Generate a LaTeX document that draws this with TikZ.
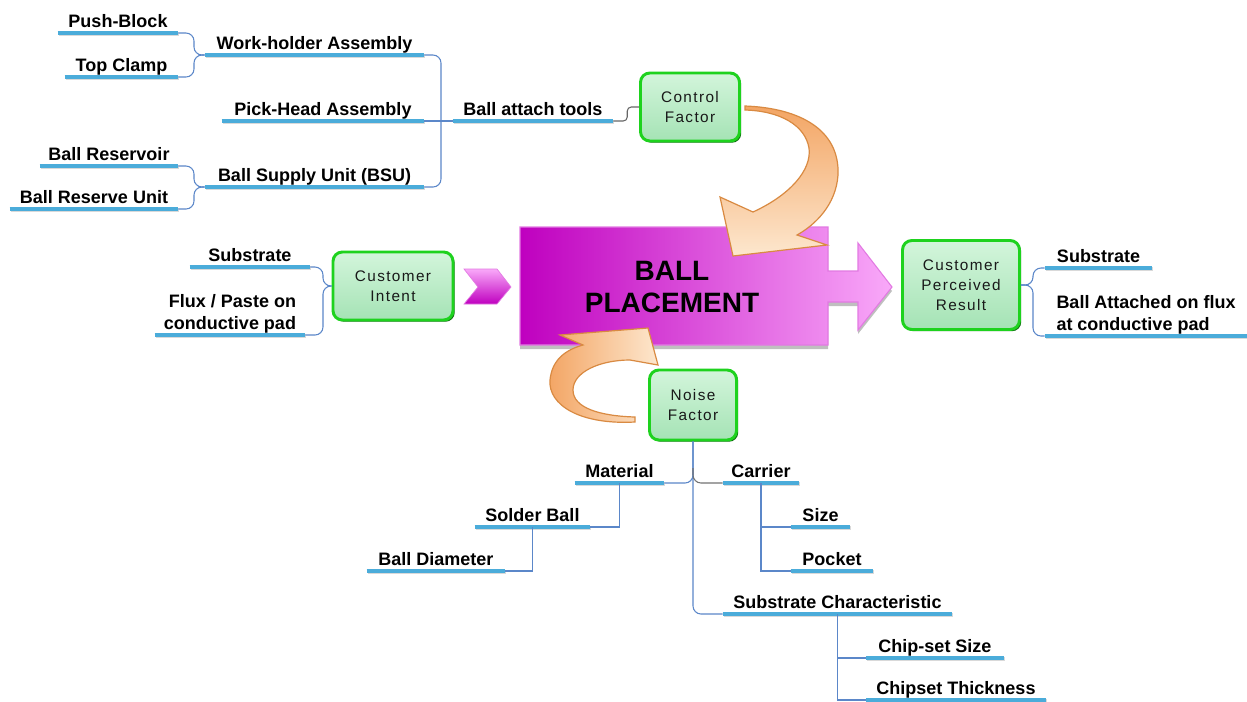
\documentclass[tikz,border=0pt]{standalone}
\usepackage{fontspec}
\setmainfont{Liberation Sans}
\newfontfamily\boxfont[LetterSpace=9]{Liberation Sans}
\usetikzlibrary{shadows}
\definecolor{lineblue}{HTML}{4BACDA}
\definecolor{linkblue}{HTML}{5B87C9}
\definecolor{boxgreen}{HTML}{1ED21E}
\definecolor{darkgreen}{HTML}{0E6A0E}
\definecolor{mintlight}{HTML}{D3F5DB}
\definecolor{mint}{HTML}{A5E3B5}
\definecolor{plum}{HTML}{BF00BF}
\definecolor{pinklight}{HTML}{F9A9F9}
\definecolor{pinkedge}{HTML}{E27AE2}
\definecolor{peach}{HTML}{F3A564}
\definecolor{peachlight}{HTML}{FDE7CE}
\definecolor{peachedge}{HTML}{D98A42}
\newcommand{\leaffont}{\bfseries\fontsize{13.5}{17}\selectfont}
\tikzstyle{leaf}=[anchor=south,inner xsep=0pt,inner ysep=1.5pt,text depth=0.22em,font=\leaffont]
\tikzstyle{uline}=[draw=lineblue,line width=2.8pt,preaction={draw=black!15,line width=2.8pt,transform canvas={xshift=0.8pt,yshift=-0.8pt}}]
\tikzstyle{branch}=[draw=linkblue,line width=0.8pt,rounded corners=6pt]
\tikzstyle{twig}=[draw=linkblue,line width=0.8pt]
\tikzstyle{factor}=[rectangle,rounded corners=7pt,draw=boxgreen,line width=2.2pt,top color=mintlight,bottom color=mint,drop shadow={shadow xshift=1.3pt,shadow yshift=-1.3pt,fill=darkgreen,opacity=1},font=\boxfont\fontsize{11.5}{15}\selectfont,text=black!90,align=center,inner sep=0pt]
\tikzstyle{bigarrow}=[left color=plum,right color=pinklight,draw=pinkedge,line width=0.8pt,drop shadow={shadow xshift=0pt,shadow yshift=-3pt,fill=black,opacity=0.25}]
\tikzstyle{chevron}=[top color=pinklight,bottom color=plum,draw=pinkedge,line width=0.5pt]
\tikzstyle{curlarrow}=[top color=peach,bottom color=peachlight,draw=peachedge,line width=0.9pt]

\begin{document}
\begin{tikzpicture}[x=0.75pt,y=-0.75pt]
    \useasboundingbox[fill=white] (0,0) rectangle (1247,701);

    % Centre arrow and the small chevron
    \path[bigarrow] (520,227) -- (828,227) -- (828,271) -- (858,271) -- (858,243) -- (892,287)
        -- (858,330) -- (858,302) -- (828,302) -- (828,345) -- (520,345) -- cycle;
    \node[font=\bfseries\fontsize{21}{24}\selectfont,align=center] (ball) at (672,287) {BALL\\PLACEMENT};
    \path[chevron] (464,269) -- (497,269) -- (511,287) -- (497,304) -- (464,304) -- (478,287) -- cycle;

    % The four factor boxes
    \foreach \name/\cx/\cy/\w/\h/\txt in {control/690/107/99/68/{Control\\Factor}, intent/393/286/120/68/{Customer\\Intent},
        result/961/285/117/89/{Customer\\Perceived\\Result}, noise/693/405/87/70/{Noise\\Factor}}
        \node[factor,minimum width=\w*0.75pt,minimum height=\h*0.75pt] (\name) at (\cx,\cy) {\txt};

    % Curved arrows into the centre
    \path[curlarrow] (745,106) .. controls (800,108) and (840,130) .. (838,175) .. controls (836,205) and (815,225) .. (797,235)
        -- (827,245) -- (733,256) -- (720,197) -- (753,212) .. controls (790,195) and (812,170) .. (809,148)
        .. controls (805,125) and (780,111) .. (745,110) -- cycle;
    \path[curlarrow,left color=peach,right color=peachlight] (635,422) .. controls (580,425) and (548,405) .. (550,380)
        .. controls (552,360) and (565,350) .. (583,345) -- (560,335) -- (648,328) -- (658,365) -- (630,360)
        .. controls (600,360) and (573,372) .. (573,390) .. controls (573,408) and (600,416) .. (635,417) -- cycle;

    % Leaves with their underlines
    \foreach \name/\cx/\cy/\len/\txt in {push/118/33/120/Push-Block, clamp/121.5/77/113/Top Clamp,
        work/314.5/55/219/Work-holder Assembly, pick/323/121/202/Pick-Head Assembly,
        bsu/314.5/187/219/Ball Supply Unit (BSU), reservoir/109/166/138/Ball Reservoir,
        reserve/94/209/168/Ball Reserve Unit, tools/533/121/160/Ball attach tools,
        subin/250/267/120/Substrate, subout/1098.5/268/107/Substrate,
        material/619.5/483/89/Material, carrier/761/483/76/Carrier,
        solder/532.5/527/115/Solder Ball, diameter/436/571/138/Ball Diameter,
        size/820.5/527/59/Size, pocket/832/571/82/Pocket,
        subchar/837.5/614/229/Substrate Characteristic, chipsize/935/658/137/Chip-set Size,
        thick/956/700/179/Chipset Thickness}
    {
        \node[leaf,minimum width=\len*0.75pt] (\name) at (\cx,\cy) {\txt};
        \draw[uline] (\name.south west) -- (\name.south east);
    }
    \node[leaf,align=right,minimum width=150*0.75pt] (flux) at (230,335) {Flux / Paste on\\conductive pad};
    \draw[uline] (flux.south west) -- (flux.south east);
    \node[leaf,align=left,minimum width=202*0.75pt] (attached) at (1146,336) {Ball Attached on flux\\at conductive pad};
    \draw[uline] (attached.south west) -- (attached.south east);

    % Joints of the brackets
    \coordinate (wj) at (194,55);
    \coordinate (bj) at (194,187);
    \coordinate (tj) at (441,121);
    \coordinate (ij) at (323,286);
    \coordinate (rj) at (1033,285);
    \coordinate (nj) at (693,468);

    % Connect the tools tree
    \foreach \source/\dest in {push/wj, clamp/wj}
        \draw[branch] (\source.south east) -| (\dest) -- (work.south west);
    \foreach \source/\dest in {reservoir/bj, reserve/bj}
        \draw[branch] (\source.south east) -| (\dest) -- (bsu.south west);
    \foreach \source in {work, bsu}
        \draw[branch] (\source.south east) -| (tj);
    \draw[branch] (pick.south east) -- (tools.south west);
    \draw[branch,draw=black!60,rounded corners=3pt] (tools.south east) -- ++(14,0) |- (control.west);

    % Connect intent and result
    \foreach \dest in {subin, flux}
        \draw[branch] (intent.west) -- (ij) |- (\dest.south east);
    \foreach \dest in {subout, attached}
        \draw[branch] (result.east) -- (rj) |- (\dest.south west);

    % Connect the noise tree
    \draw[branch] (noise.south) |- (subchar.south west);
    \draw[branch] (noise.south) -- (nj) |- (material.south east);
    \draw[branch,draw=black!55] (nj) |- (carrier.south west);
    \foreach \source/\dest in {material/solder, solder/diameter}
        \draw[twig] (\source.south) |- (\dest.south east);
    \foreach \source/\dest in {carrier/size, carrier/pocket, subchar/chipsize, subchar/thick}
        \draw[twig] (\source.south) |- (\dest.south west);
\end{tikzpicture}
\end{document}
